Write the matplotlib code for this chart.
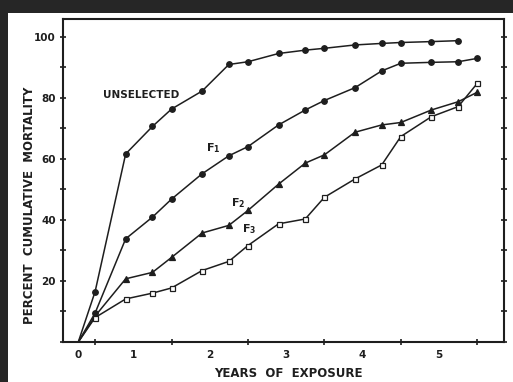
import matplotlib
matplotlib.use("Agg")
import matplotlib.pyplot as plt
from matplotlib.patches import Rectangle
from matplotlib.ticker import FixedLocator, MultipleLocator

# ---- data (years of exposure, percent cumulative mortality) ----
years = [0.28, 0.5, 0.9, 1.25, 1.5, 1.9, 2.25, 2.5, 2.9, 3.25, 3.5, 3.9, 4.25, 4.5, 4.9, 5.25, 5.5]
unselected = [0, 16.5, 61.6, 70.6, 76.3, 82.2, 90.9, 91.8, 94.5, 95.6, 96.2, 97.3, 97.8, 98.1, 98.4, 98.7]
f1 = [0, 9.5, 33.8, 40.9, 46.8, 55.1, 61.0, 64.0, 71.1, 76.0, 79.1, 83.3, 88.8, 91.3, 91.6, 91.8, 92.9]
f2 = [0, 8.5, 20.7, 22.8, 27.7, 35.7, 38.2, 43.1, 51.7, 58.6, 61.3, 68.7, 71.1, 71.9, 76.0, 78.7, 81.8]
f3 = [0, 8.0, 14.1, 16.0, 17.7, 23.4, 26.4, 31.6, 38.7, 40.3, 47.4, 53.4, 58.0, 67.3, 73.8, 77.1, 84.7]

xtick_pos = [0.28, 1, 2, 3, 4, 5]
xtick_labels = ["0", "1", "2", "3", "4", "5"]
ytick_pos = [20, 40, 60, 80, 100]

ink = "#1e1e1e"
W, H = 513, 382
fig = plt.figure(figsize=(W / 100, H / 100), dpi=100, facecolor="white")
dark = "#262626"
fig.patches.append(Rectangle((0, (H - 13) / H), 1, 13 / H, transform=fig.transFigure,
                             facecolor=dark, edgecolor="none", zorder=-10))
fig.patches.append(Rectangle((0, 0), 8 / W, 1, transform=fig.transFigure,
                             facecolor=dark, edgecolor="none", zorder=-10))

ax = fig.add_axes([63 / W, (H - 342) / H, (504 - 63) / W, (342 - 19) / H])
ax.set_facecolor("white")

series = [
    (unselected, "o", ink),
    (f1, "o", ink),
    (f2, "^", ink),
    (f3, "s", "white"),
]
for vals, mk, fc in series:
    xs = years[:len(vals)]
    ax.plot(xs, vals, color=ink, lw=1.1, zorder=2)
    ax.plot(xs[1:], vals[1:], ls="none", marker=mk, ms=4 if mk != "s" else 3.6,
            mfc=fc, mec=ink, mew=0.9, zorder=3)

ax.set_xlim(0.08, 5.85)
ax.set_ylim(0, 105.8)

ax.xaxis.set_major_locator(FixedLocator(xtick_pos))
ax.set_xticklabels(xtick_labels)
ax.xaxis.set_minor_locator(FixedLocator([0.5, 1.5, 2.5, 3.5, 4.5, 5.5]))
ax.tick_params(axis="x", which="major", length=0, pad=6)
ax.tick_params(axis="x", which="minor", direction="inout", length=4, width=1.2, color=ink)

ax.yaxis.set_major_locator(FixedLocator(ytick_pos))
ax.yaxis.set_minor_locator(MultipleLocator(10))
ax.tick_params(axis="y", which="both", direction="inout", length=4, width=1.2,
               color=ink, right=True, pad=3)

for lab in ax.get_xticklabels() + ax.get_yticklabels():
    lab.set_fontsize(7.5)
    lab.set_fontweight("bold")
    lab.set_color(ink)

for sp in ax.spines.values():
    sp.set_linewidth(1.5)
    sp.set_color(ink)

ax.set_ylabel("PERCENT  CUMULATIVE  MORTALITY", fontsize=8.5, fontweight="bold",
              color=ink)
ax.yaxis.set_label_coords(-0.061, 0.424)
ax.set_xlabel("YEARS  OF  EXPOSURE", fontsize=8.5, fontweight="bold", color=ink)
ax.xaxis.set_label_coords(0.512, -0.077)

ax.text(1.1, 80.9, "UNSELECTED", fontsize=7.5, fontweight="bold", color=ink,
        ha="center", va="center")
ax.text(2.04, 63.5, r"F$_\mathregular{1}$", fontsize=8, fontweight="bold",
        color=ink, ha="center", va="center")
ax.text(2.37, 45.5, r"F$_\mathregular{2}$", fontsize=8, fontweight="bold",
        color=ink, ha="center", va="center")
ax.text(2.52, 37.0, r"F$_\mathregular{3}$", fontsize=8, fontweight="bold",
        color=ink, ha="center", va="center")

fig.savefig("out.png", dpi=100, facecolor=fig.get_facecolor())
